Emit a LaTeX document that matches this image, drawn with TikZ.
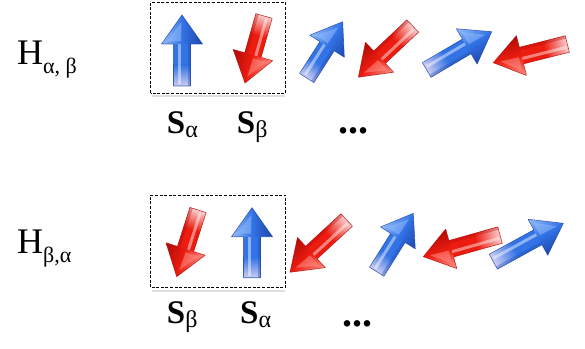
\documentclass[tikz,border=0pt]{standalone}
\usepackage{fontspec}
\setmainfont{Liberation Serif}
\definecolor{bluemain}{RGB}{50,115,230}
\definecolor{bluedark}{RGB}{30,70,170}
\definecolor{bluelight}{RGB}{150,190,250}
\definecolor{bluepale}{RGB}{205,205,242}
\definecolor{redmain}{RGB}{236,28,16}
\definecolor{reddark}{RGB}{175,12,6}
\definecolor{redlight}{RGB}{255,150,140}
\definecolor{redpale}{RGB}{250,205,205}
\tikzset{
  lbl/.style={inner sep=0pt, anchor=base west},
  boxframe/.style={draw=black, line width=0.9pt, dash pattern=on 3pt off 1.6pt},
  boxshadow/.style={draw=black!12, line width=2pt}
}
\newcommand\spinarrow[5]{%
  \pgfmathsetmacro\sdx{#3-#1}%
  \pgfmathsetmacro\sdy{#2-#4}%
  \pgfmathsetmacro\sL{veclen(\sdx,\sdy)}%
  \pgfmathsetmacro\sA{atan2(\sdy,\sdx)}%
  \pgfmathsetmacro\sB{\sL-29}%
  \pgfmathsetmacro\sM{0.5*\sB}%
  \pgfmathsetmacro\sX{#1}%
  \pgfmathsetmacro\sY{348-#2}%
  \begin{scope}[transform canvas={shift={(\sX pt,\sY pt)},rotate=\sA}]
    \fill[#5main] (\sM-0.5,-8.5) rectangle (\sB+2,8.5);
    \shade[left color=#5pale, right color=#5main] (0,-8.5) rectangle (\sM,8.5);
    \fill[white,opacity=.45] (2,1.5) rectangle (\sB,4.5);
    \fill[#5dark,opacity=.35] (0,-8.5) rectangle (\sB,-5.5);
    \shade[top color=#5light, bottom color=#5dark, middle color=#5main]
      (\sB,-20.5) -- (\sL,0) -- (\sB,20.5) -- cycle;
    \fill[#5light,opacity=.5] (\sB+3,1) -- (\sL-7,0.5) -- (\sB+3,15) -- cycle;
    \draw[#5dark, line width=.6pt, line join=round, opacity=.8]
      (0,-8.5) -- (\sB,-8.5) -- (\sB,-20.5) -- (\sL,0) -- (\sB,20.5) -- (\sB,8.5) -- (0,8.5) -- cycle;
  \end{scope}}
\begin{document}
\begin{tikzpicture}[x=1pt,y=1pt]
\useasboundingbox (0,0) rectangle (585,348);
% boxes
\draw[boxshadow] (152,251.5) -- (285,251.5);
\draw[boxframe] (150.7,255) rectangle (285.7,345.5);
\draw[boxshadow] (152,57.5) -- (285,57.5);
\draw[boxframe] (150.7,60.7) rectangle (285.7,153);
% labels
\node[lbl] (h1) at (17,283) {\fontsize{36}{40}\selectfont H\raisebox{-9pt}{\fontsize{22}{24}\selectfont α, β}};
\node[lbl] (h2) at (17,95) {\fontsize{36}{40}\selectfont H\raisebox{-9pt}{\fontsize{22}{24}\selectfont β,α}};
\node[lbl] (s1) at (166.7,214.7) {\fontsize{33}{36}\selectfont\textbf{S}\raisebox{-4pt}{\fontsize{24}{26}\selectfont α}};
\node[lbl] (s2) at (236.7,214.7) {\fontsize{33}{36}\selectfont\textbf{S}\raisebox{-4pt}{\fontsize{24}{26}\selectfont β}};
\node[lbl] (d1) at (338,214.7) {\fontsize{40}{40}\selectfont\textbf{...}};
\node[lbl] (s3) at (166.7,24.7) {\fontsize{33}{36}\selectfont\textbf{S}\raisebox{-4pt}{\fontsize{24}{26}\selectfont β}};
\node[lbl] (s4) at (240,24.7) {\fontsize{33}{36}\selectfont\textbf{S}\raisebox{-4pt}{\fontsize{24}{26}\selectfont α}};
\node[lbl] (d2) at (342,22) {\fontsize{40}{40}\selectfont\textbf{...}};
% top row spins
\spinarrow{182}{86}{182}{15}{blue}
\spinarrow{264}{16}{245}{83}{red}
\spinarrow{306.7}{78}{342.7}{21.7}{blue}
\spinarrow{412.7}{26}{358.3}{77.3}{red}
\spinarrow{426.7}{70}{491.7}{31.7}{blue}
\spinarrow{567.3}{44}{493.3}{62.7}{red}
% bottom row spins
\spinarrow{198}{210}{176.7}{276.7}{red}
\spinarrow{252}{277.7}{252}{207.7}{blue}
\spinarrow{346.7}{220}{290}{272.3}{red}
\spinarrow{376.7}{271.7}{413.3}{213.3}{blue}
\spinarrow{500}{235}{423.3}{256.7}{red}
\spinarrow{493.3}{261.7}{563.3}{223.3}{blue}
\end{tikzpicture}
\end{document}
